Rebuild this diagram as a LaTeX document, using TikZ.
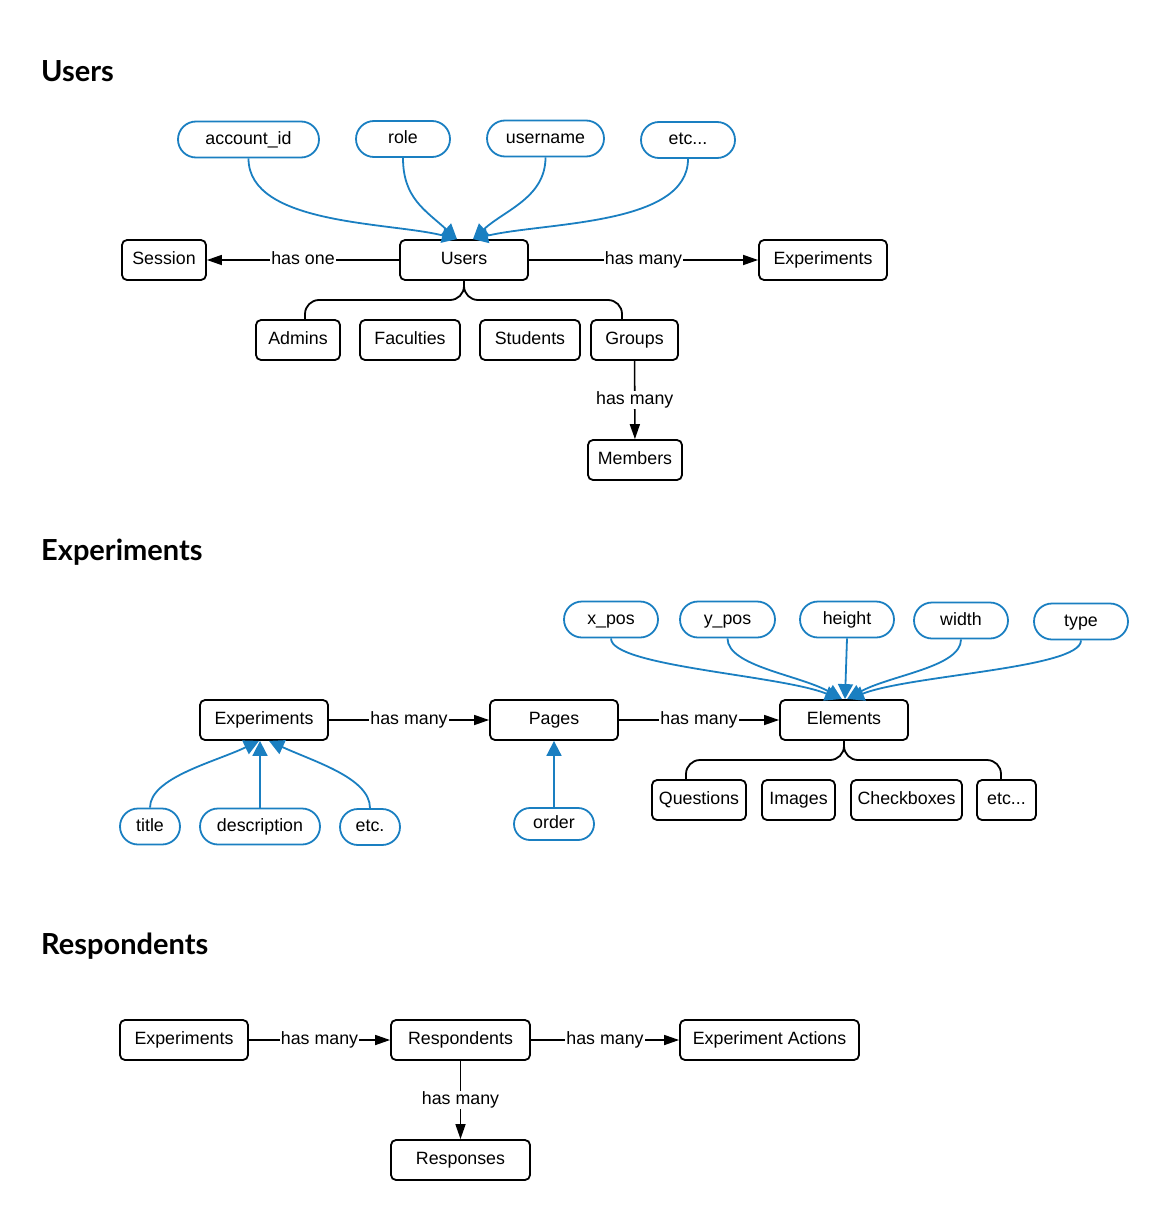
\documentclass[tikz,border=0pt]{standalone}
\usepackage{fontspec}
\setmainfont{Liberation Sans}
\newfontfamily\headfont{Lato}
\usetikzlibrary{arrows.meta}
\definecolor{ublue}{HTML}{1A7FC1}
\tikzset{
  box/.style={draw, line width=1.8pt, rounded corners=5pt, minimum height=40pt, inner sep=0pt, text height=12.6pt, text depth=3.6pt, font=\fontsize{17.8}{20}\selectfont},
  attr/.style={draw=ublue, line width=1.8pt, rounded corners=18pt, minimum height=36pt, inner sep=0pt, text height=12.6pt, text depth=3.6pt, font=\fontsize{17.8}{20}\selectfont},
  head/.style={anchor=base west, inner sep=0pt, font=\headfont\bfseries\fontsize{29}{32}\selectfont},
  rel/.style={line width=1.6pt, -{Triangle[length=15pt,width=10pt]}},
  lbl/.style={fill=white, inner sep=1pt, text height=12.6pt, text depth=3.6pt, font=\fontsize{17.8}{20}\selectfont},
  battr/.style={draw=ublue, line width=1.8pt, -{Triangle[length=15pt,width=15pt,fill=ublue]}},
  brace/.style={line width=1.8pt, rounded corners=14pt},
}
\begin{document}
\begin{tikzpicture}[x=1pt,y=-1pt]
\useasboundingbox (0,0) rectangle (1168,1220);

% ---------------- Users ----------------
\node[head] (h1) at (41,82) {Users};

\node[box, minimum width=84pt] (session) at (164,260) {Session};
\node[box, minimum width=128pt] (users) at (464,260) {Users};
\node[box, minimum width=128pt] (uexp) at (823,260) {Experiments};

\node[attr, minimum width=141pt] (acc) at (248.5,139.5) {account\_id};
\node[attr, minimum width=94pt] (role) at (403,139) {role};
\node[attr, minimum width=117pt] (uname) at (545.5,138.5) {username};
\node[attr, minimum width=94pt] (uetc) at (688,140) {etc...};

\node[box, minimum width=84pt] (admins) at (298,340) {Admins};
\node[box, minimum width=100pt] (fac) at (410,340) {Faculties};
\node[box, minimum width=100pt] (stud) at (530,340) {Students};
\node[box, minimum width=87pt] (groups) at (634.5,340) {Groups};
\node[box, minimum width=94pt] (members) at (635,460) {Members};

\draw[rel] (users) -- node[lbl] {has one} (session);
\draw[rel] (users) -- node[lbl] {has many} (uexp);
\draw[rel] (groups) -- node[lbl] {has many} (members);

\draw[battr] (acc.south) .. controls +(0,67) and (390,222) .. ([xshift=-7pt]users.north);
\draw[battr] (role.south) .. controls +(0,40) and (425,210) .. ([xshift=-7pt]users.north);
\draw[battr] (uname.south) .. controls +(0,40) and (505,210) .. ([xshift=9pt]users.north);
\draw[battr] (uetc.south) .. controls +(0,67) and (545,222) .. ([xshift=9pt]users.north);

\draw[brace] (users.south) -- (464,300) -| (admins.north -| 305,0);
\draw[brace] (users.south) -- (464,300) -| (groups.north -| 622,0);

% ---------------- Experiments ----------------
\node[head] (h2) at (41,560) {Experiments};

\node[box, minimum width=128pt] (exp) at (264,720) {Experiments};
\node[box, minimum width=128pt] (pages) at (554,720) {Pages};
\node[box, minimum width=128pt] (elem) at (844,720) {Elements};

\draw[rel] (exp) -- node[lbl] {has many} (pages);
\draw[rel] (pages) -- node[lbl] {has many} (elem);

\node[attr, minimum width=60pt] (title) at (150,826.5) {title};
\node[attr, minimum width=120pt] (desc) at (260,826.5) {description};
\node[attr, minimum width=60pt] (eetc) at (370,827) {etc.};
\node[attr, minimum width=80pt, minimum height=32pt, rounded corners=16pt] (order) at (554,824) {order};

\draw[battr] (title.north) .. controls +(0,-30) and (215,762) .. ([xshift=-5pt]exp.south);
\draw[battr] (desc.north) -- (desc.north |- exp.south);
\draw[battr] (eetc.north) .. controls +(0,-30) and (315,762) .. ([xshift=5pt]exp.south);
\draw[battr] (order.north) -- (pages.south);

\node[attr, minimum width=94pt] (xpos) at (611,619.5) {x\_pos};
\node[attr, minimum width=95pt] (ypos) at (727.5,619.5) {y\_pos};
\node[attr, minimum width=94pt] (hgt) at (847,619.5) {height};
\node[attr, minimum width=94pt] (wid) at (961,620.5) {width};
\node[attr, minimum width=94pt] (typ) at (1081,621.5) {type};

\draw[battr] (xpos.south) .. controls +(0,28) and (780,675) .. ([xshift=-4pt]elem.north);
\draw[battr] (ypos.south) .. controls +(0,28) and (800,675) .. ([xshift=-2pt]elem.north);
\draw[battr] (hgt.south) -- ([xshift=1pt]elem.north);
\draw[battr] (wid.south) .. controls +(0,28) and (890,675) .. ([xshift=3pt]elem.north);
\draw[battr] (typ.south) .. controls +(0,28) and (910,675) .. ([xshift=5pt]elem.north);

\node[box, minimum width=94pt] (quest) at (699,800) {Questions};
\node[box, minimum width=73pt] (img) at (798.5,800) {Images};
\node[box, minimum width=111pt] (chk) at (906.5,800) {Checkboxes};
\node[box, minimum width=59pt] (elemetc) at (1006.5,800) {etc...};

\draw[brace] (elem.south) -- (844,760) -| (quest.north -| 686,0);
\draw[brace] (elem.south) -- (844,760) -| (elemetc.north -| 1001,0);

% ---------------- Respondents ----------------
\node[head] (h3) at (41,954) {Respondents};

\node[box, minimum width=128pt] (rexp) at (184,1040) {Experiments};
\node[box, minimum width=139pt] (resp) at (460.5,1040) {Respondents};
\node[box, minimum width=179pt] (act) at (769.5,1040) {Experiment Actions};
\node[box, minimum width=139pt] (responses) at (460.5,1160) {Responses};

\draw[rel] (rexp) -- node[lbl] {has many} (resp);
\draw[rel] (resp) -- node[lbl] {has many} (act);
\draw[rel] (resp) -- node[lbl] {has many} (responses);
\end{tikzpicture}
\end{document}
